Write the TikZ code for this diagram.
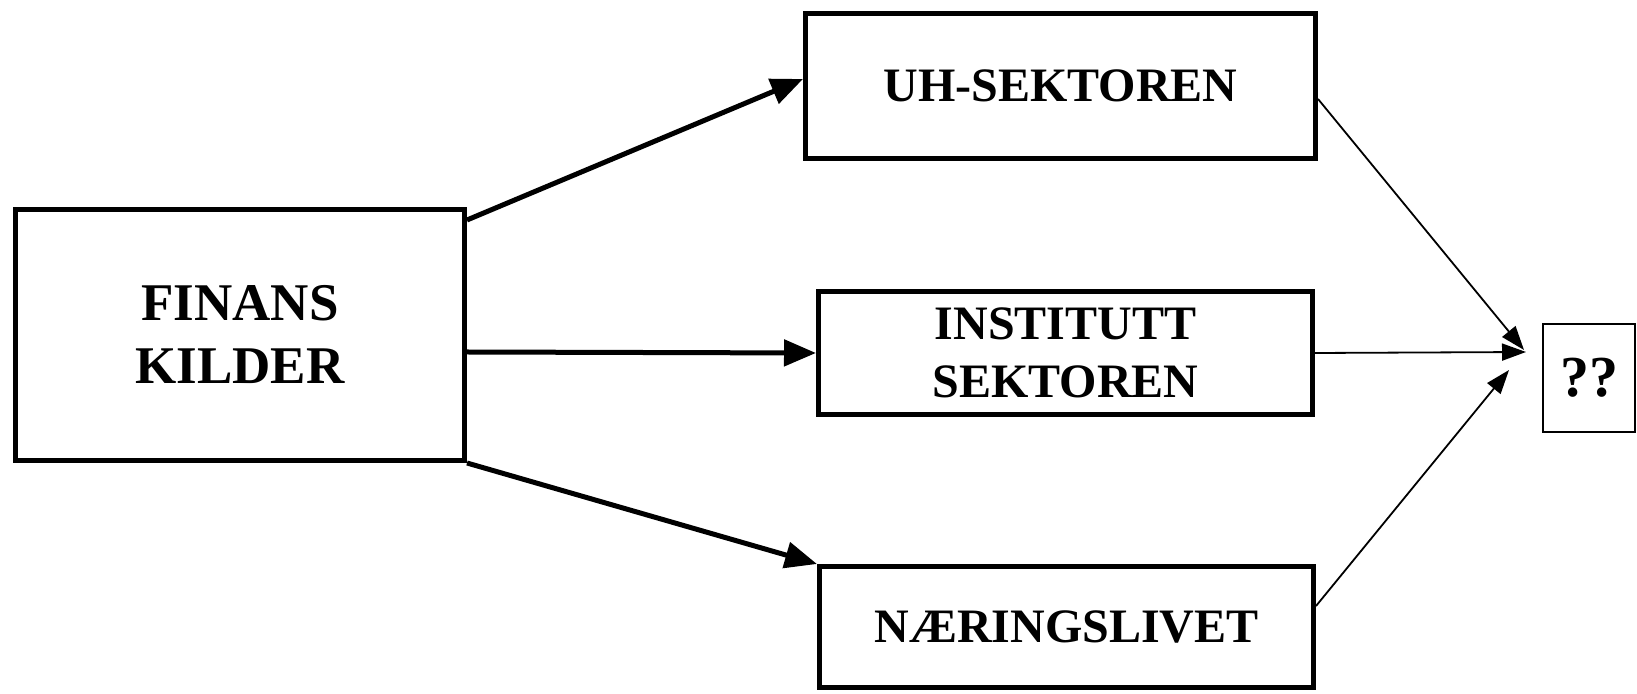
\documentclass[tikz,border=0pt]{standalone}
\usepackage{fontspec}
\setmainfont{Liberation Serif}
\usetikzlibrary{arrows.meta}
\begin{document}
\begin{tikzpicture}[x=1pt,y=1pt,
  bigbox/.style={draw, line width=5pt, rectangle, inner sep=0pt, align=center,
    font=\bfseries\fontsize{48}{58}\selectfont},
  qbox/.style={draw, line width=2pt, rectangle, inner sep=0pt, align=center,
    font=\bfseries\fontsize{58}{64}\selectfont},
  thickarrow/.style={line width=5pt, -{Triangle[length=32pt,width=26pt]}},
  thinarrow/.style={line width=1.8pt, -{Triangle[length=24pt,width=17pt]}}]
\useasboundingbox (0,0) rectangle (1637,693);
\fill[white] (0,0) rectangle (1637,693);

\node[bigbox, minimum width=449pt, minimum height=251pt,
  font=\bfseries\fontsize{53}{63}\selectfont] (fin) at (240,358) {FINANS\\KILDER};
\node[bigbox, minimum width=510pt, minimum height=145pt] (uh) at (1060.5,607) {UH-SEKTOREN};
\node[bigbox, minimum width=494pt, minimum height=123pt] (inst) at (1065.5,340) {INSTITUTT\\SEKTOREN};
\node[bigbox, minimum width=494pt, minimum height=121pt] (naer) at (1066.5,66) {\raisebox{-5pt}{NÆRINGSLIVET}};
\node[qbox, minimum width=92pt, minimum height=108pt] (q) at (1589,315) {??};

\coordinate (t1) at ([shift={(-18,28)}]q.west);
\coordinate (t2) at ([shift={(-16,26)}]q.west);
\coordinate (t3) at ([shift={(-33,8)}]q.west);

\draw[thickarrow] ([yshift=-13pt]fin.north east) -- ([yshift=7pt]uh.west);
\draw[thickarrow] ([yshift=-17pt]fin.east) -- (inst.west);
\draw[thickarrow] (fin.south east) -- (naer.north west);

\draw[thinarrow] ([yshift=-13pt]uh.east) -- (t1);
\draw[thinarrow] (inst.east) -- (t2);
\draw[thinarrow] ([yshift=21pt]naer.east) -- (t3);
\end{tikzpicture}
\end{document}
